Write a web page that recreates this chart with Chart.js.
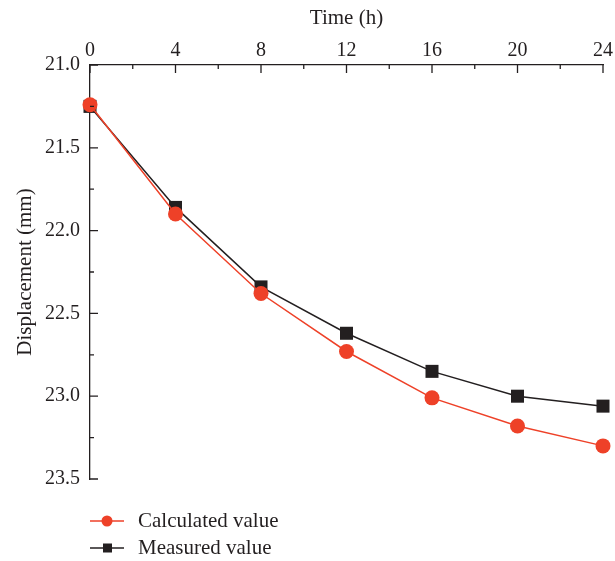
<!DOCTYPE html>
<html>
<head>
<meta charset="utf-8">
<script src="https://cdn.jsdelivr.net/npm/chart.js@4"></script>
<style>
  html, body { margin: 0; padding: 0; background: #fff; }
  #wrap { width: 615px; height: 561px; }
</style>
</head>
<body>
<div id="wrap"><canvas id="dispChart" width="615" height="561"></canvas></div>
<script>
const hours = [0, 4, 8, 12, 16, 20, 24];
const calculated = [21.24, 21.90, 22.38, 22.73, 23.01, 23.18, 23.30];
const measured = [21.25, 21.86, 22.34, 22.62, 22.85, 23.00, 23.06];
const seriesNames = ['Calculated value', 'Measured value'];

const ink = '#231F20';
const red = '#EE4128';
const serif = '"Liberation Serif", "Times New Roman", serif';

// ticks point into the plot, majors + one minor between each
const innerTicks = {
  id: 'innerTicks',
  afterDraw(chart) {
    const { ctx, chartArea, scales } = chart;
    const x = scales.x, y = scales.y;
    ctx.save();
    ctx.strokeStyle = ink;
    ctx.lineWidth = 1.3;
    ctx.beginPath();
    for (let v = 0; v <= 24; v += 2) {
      const px = x.getPixelForValue(v);
      const len = v % 4 === 0 ? 8 : 4;
      ctx.moveTo(px, chartArea.top);
      ctx.lineTo(px, chartArea.top + len);
    }
    for (let v = 21; v <= 23.5001; v += 0.25) {
      const py = y.getPixelForValue(v);
      const len = Math.abs((v * 2) - Math.round(v * 2)) < 1e-6 ? 8 : 4;
      ctx.moveTo(chartArea.left, py);
      ctx.lineTo(chartArea.left + len, py);
    }
    ctx.stroke();
    ctx.restore();
  }
};

// legend drawn as line + marker + label, bottom left
const lineLegend = {
  id: 'lineLegend',
  afterDraw(chart) {
    const { ctx, chartArea } = chart;
    const x0 = chartArea.left;
    let yy = chartArea.bottom + 42;
    ctx.save();
    chart.data.datasets.forEach(ds => {
      ctx.strokeStyle = ds.borderColor;
      ctx.lineWidth = 1.5;
      ctx.beginPath();
      ctx.moveTo(x0, yy);
      ctx.lineTo(x0 + 34, yy);
      ctx.stroke();
      ctx.fillStyle = ds.backgroundColor;
      if (ds.pointStyle === 'circle') {
        ctx.beginPath();
        ctx.arc(x0 + 17, yy, 5.5, 0, Math.PI * 2);
        ctx.fill();
      } else {
        ctx.fillRect(x0 + 13, yy - 4.5, 9, 9);
      }
      ctx.fillStyle = ink;
      ctx.font = '21px ' + serif;
      ctx.textBaseline = 'middle';
      ctx.fillText(ds.label, x0 + 48, yy);
      yy += 27;
    });
    ctx.restore();
  }
};

new Chart(document.getElementById('dispChart').getContext('2d'), {
  type: 'line',
  data: {
    datasets: [{
      label: seriesNames[0],
      data: hours.map((h, i) => ({ x: h, y: calculated[i] })),
      borderColor: red,
      backgroundColor: red,
      borderWidth: 1.5,
      pointStyle: 'circle',
      pointRadius: 7.5,
      pointBorderWidth: 0,
      clip: false
    }, {
      label: seriesNames[1],
      data: hours.map((h, i) => ({ x: h, y: measured[i] })),
      borderColor: ink,
      backgroundColor: ink,
      borderWidth: 1.5,
      pointStyle: 'rect',
      pointRadius: 9.2,
      pointBorderWidth: 0,
      clip: false
    }]
  },
  options: {
    responsive: false,
    animation: false,
    layout: { padding: { left: 0, top: 0, right: 10, bottom: 82 } },
    plugins: {
      legend: { display: false },
      tooltip: { enabled: false }
    },
    scales: {
      x: {
        type: 'linear',
        position: 'top',
        min: 0,
        max: 24,
        ticks: { stepSize: 4, color: ink, font: { family: serif, size: 20 }, padding: 2, maxRotation: 0 },
        grid: { display: false, drawTicks: false },
        border: { display: true, color: ink, width: 1.3 },
        title: { display: true, text: 'Time (h)', color: ink, font: { family: serif, size: 21 }, padding: { top: 6, bottom: 0 } },
        afterFit(scale) { scale.height = 65; }
      },
      y: {
        reverse: true,
        min: 21,
        max: 23.5,
        ticks: {
          stepSize: 0.5,
          color: ink,
          font: { family: serif, size: 20 },
          padding: 10,
          callback: v => v.toFixed(1)
        },
        grid: { display: false, drawTicks: false },
        border: { display: true, color: ink, width: 1.3 },
        title: { display: true, text: 'Displacement (mm)', color: ink, font: { family: serif, size: 21 }, padding: { top: 13, bottom: 0 } },
        afterFit(scale) { scale.width = 90; }
      }
    }
  },
  plugins: [innerTicks, lineLegend]
});
</script>
</body>
</html>
